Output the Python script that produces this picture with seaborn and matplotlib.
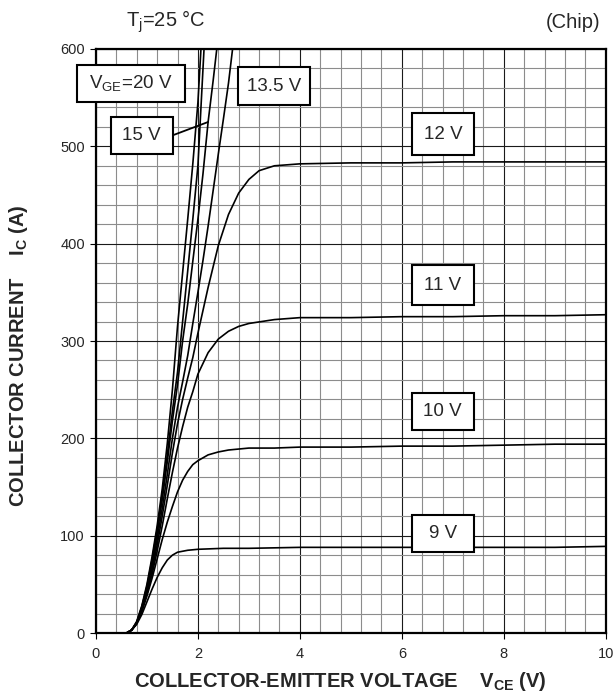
import numpy as np
import pandas as pd
import matplotlib
matplotlib.use("Agg")
import matplotlib.pyplot as plt
import matplotlib.ticker as mticker
from matplotlib.patches import Rectangle
import seaborn as sns

# output characteristics (V_CE in V, I_C in A)
vce_20 = [0, 0.6, 0.7, 0.8, 0.9, 1.0, 1.1, 1.2, 1.3, 1.4, 1.5, 1.6, 1.7, 1.8, 1.9, 2.0, 2.06]
ic_20 = [0, 0, 3, 12, 28, 50, 78, 110, 148, 195, 250, 315, 370, 425, 482, 545, 600]

vce_17 = [0, 0.6, 0.7, 0.8, 0.9, 1.0, 1.1, 1.2, 1.3, 1.4, 1.5, 1.6, 1.7, 1.8, 1.9, 2.0, 2.12]
ic_17 = [0, 0, 3, 11, 27, 48, 75, 106, 142, 183, 228, 268, 320, 372, 425, 480, 600]

vce_15 = [0, 0.6, 0.7, 0.8, 0.9, 1.0, 1.1, 1.2, 1.3, 1.4, 1.5, 1.6, 1.7, 1.8, 1.9, 2.0, 2.1, 2.2, 2.3, 2.37]
ic_15 = [0, 0, 3, 11, 26, 46, 72, 102, 137, 176, 218, 255, 300, 338, 382, 425, 472, 525, 568, 600]

vce_135 = [0, 0.6, 0.7, 0.8, 0.9, 1.0, 1.1, 1.2, 1.3, 1.4, 1.5, 1.6, 1.7, 1.8, 1.9, 2.0, 2.1, 2.2,
           2.3, 2.4, 2.5, 2.6, 2.68]
ic_135 = [0, 0, 3, 10, 25, 44, 68, 96, 128, 163, 200, 232, 258, 285, 318, 350, 383, 418,
          455, 492, 528, 565, 600]

vce_12 = [0, 0.6, 0.7, 0.8, 0.9, 1.0, 1.1, 1.2, 1.3, 1.4, 1.5, 1.6, 1.7, 1.8, 1.9, 2.0, 2.2, 2.4,
          2.6, 2.8, 3.0, 3.2, 3.5, 4, 5, 6, 7, 8, 9, 10]
ic_12 = [0, 0, 3, 10, 24, 42, 64, 90, 120, 152, 185, 215, 240, 262, 283, 308, 355, 398,
         430, 452, 466, 475, 480, 482, 483, 483, 484, 484, 484, 484]

vce_11 = [0, 0.6, 0.7, 0.8, 0.9, 1.0, 1.1, 1.2, 1.3, 1.4, 1.5, 1.6, 1.7, 1.8, 1.9, 2.0, 2.2, 2.4,
          2.6, 2.8, 3.0, 3.5, 4, 5, 6, 7, 8, 9, 10]
ic_11 = [0, 0, 3, 10, 23, 40, 60, 84, 110, 138, 165, 190, 212, 232, 248, 266, 288, 302,
         310, 315, 318, 322, 324, 324, 325, 325, 326, 326, 327]

vce_10 = [0, 0.6, 0.7, 0.8, 0.9, 1.0, 1.1, 1.2, 1.3, 1.4, 1.5, 1.6, 1.7, 1.8, 1.9, 2.0, 2.2, 2.4,
          2.6, 3.0, 3.5, 4, 5, 6, 7, 8, 9, 10]
ic_10 = [0, 0, 3, 10, 22, 38, 56, 76, 96, 114, 130, 145, 157, 166, 173, 177, 183, 186,
         188, 190, 190, 191, 191, 192, 192, 193, 194, 194]

vce_9 = [0, 0.6, 0.7, 0.8, 0.9, 1.0, 1.1, 1.2, 1.3, 1.4, 1.5, 1.6, 1.8, 2.0, 2.5, 3, 4, 5, 6, 7, 8, 9, 10]
ic_9 = [0, 0, 3, 9, 19, 32, 45, 57, 67, 75, 80, 83, 85, 86, 87, 87, 88, 88, 88, 88, 88, 88, 89]

curves = {
    "20 V": (vce_20, ic_20),
    "17 V": (vce_17, ic_17),
    "15 V": (vce_15, ic_15),
    "13.5 V": (vce_135, ic_135),
    "12 V": (vce_12, ic_12),
    "11 V": (vce_11, ic_11),
    "10 V": (vce_10, ic_10),
    "9 V": (vce_9, ic_9),
}

frames = []
for name, (v, i) in curves.items():
    frames.append(pd.DataFrame({"vce": v, "ic": i, "vge": name}))
df = pd.concat(frames, ignore_index=True)

sns.set_theme(style="white")
plt.rcParams["font.family"] = ["Liberation Sans", "DejaVu Sans"]
plt.rcParams["mathtext.default"] = "regular"

fig = plt.figure(figsize=(6.15, 6.95), dpi=100)
ax = fig.add_axes([0.156, 0.0892, 0.829, 0.8403])

sns.lineplot(data=df, x="vce", y="ic", hue="vge", estimator=None, sort=False,
             palette=["black"] * len(curves), linewidth=1.2, legend=False, ax=ax, zorder=3)

ax.set_xlim(0, 10)
ax.set_ylim(0, 600)
ax.xaxis.set_major_locator(mticker.MultipleLocator(2))
ax.xaxis.set_minor_locator(mticker.MultipleLocator(0.4))
ax.yaxis.set_major_locator(mticker.MultipleLocator(100))
ax.yaxis.set_minor_locator(mticker.MultipleLocator(20))
ax.grid(which="minor", color="#8c8c8c", linewidth=0.8)
ax.grid(which="major", color="#1a1a1a", linewidth=0.8)
ax.set_axisbelow(True)
ax.tick_params(which="major", direction="out", length=4, width=0.8, color="black",
               labelsize=10.5, bottom=True, left=True, pad=4)
ax.tick_params(axis="x", which="major", pad=6)
ax.tick_params(which="minor", length=0)
for s in ax.spines.values():
    s.set_color("black")
    s.set_linewidth(1.6)

ax.set_xlabel(r"COLLECTOR-EMITTER VOLTAGE    V$_{\mathregular{CE}}$ (V)",
              fontsize=14.5, fontweight="bold")
ax.set_ylabel(r"COLLECTOR CURRENT    I$_{\mathregular{C}}$ (A)",
              fontsize=14.5, fontweight="bold")
ax.xaxis.set_label_coords(0.48, -0.064)
ax.yaxis.set_label_coords(-0.13, 0.475)

fig.text(0.205, 0.968, r"T$_{\mathregular{ j}}$=25 °C", fontsize=14.5, va="center", ha="left")
fig.text(0.977, 0.968, "(Chip)", fontsize=14.5, va="center", ha="right")

# label boxes: (x0, x1, y0, y1, text)
boxes = [
    (-0.378, 1.745, 545.6, 583.6, r"V$_{\mathregular{GE}}$=20 V"),
    (2.79, 4.196, 542.2, 581.0, "13.5 V"),
    (0.288, 1.504, 491.8, 530.5, "15 V"),
    (6.19, 7.418, 491.0, 534.0, "12 V"),
    (6.196, 7.41, 337.4, 377.6, "11 V"),
    (6.196, 7.41, 208.8, 246.9, "10 V"),
    (6.196, 7.41, 83.3, 121.4, "9 V"),
]
ax.plot([1.504, 2.2], [511.3, 525], color="black", linewidth=1.3, zorder=4)
for x0, x1, y0, y1, t in boxes:
    ax.add_patch(Rectangle((x0, y0), x1 - x0, y1 - y0, facecolor="white", edgecolor="black",
                           linewidth=1.5, zorder=5, clip_on=False))
    ax.text((x0 + x1) / 2, (y0 + y1) / 2, t, ha="center", va="center", fontsize=13.5,
            zorder=6)

fig.savefig("out.png", dpi=100)
